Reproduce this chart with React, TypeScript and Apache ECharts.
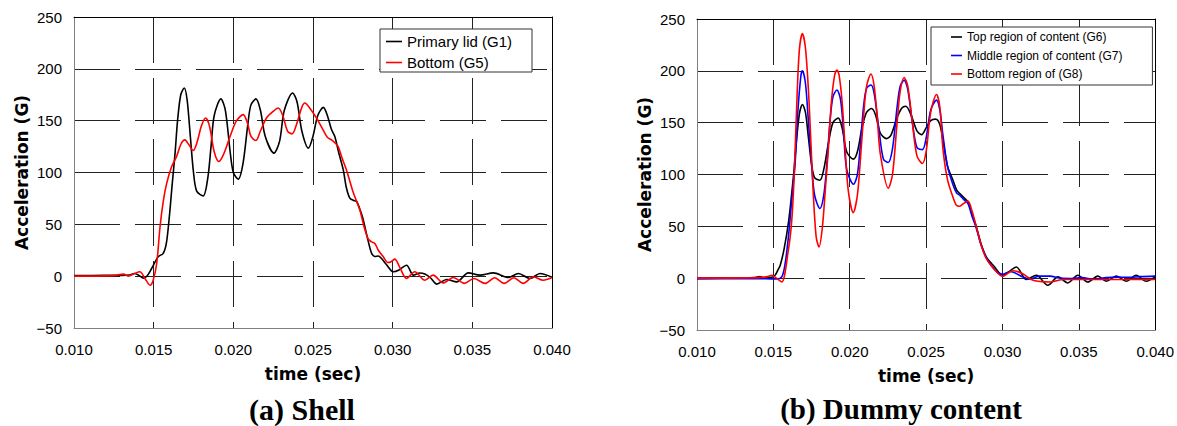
import { useEffect, useRef } from "react";
import * as echarts from "echarts";

// Axis ranges shared by both panels
const timeMin = 0.01;
const timeMax = 0.04;
const timeStep = 0.005;
const accMin = -50;
const accMax = 250;
const accStep = 50;

const timeAxisName = "time (sec)";
const accelAxisName = "Acceleration (G)";
const panelTitles = ["(a) Shell", "(b) Dummy content"];

const shellNames = ["Primary lid (G1)", "Bottom (G5)"];
const contentNames = [
  "Top region of content (G6)",
  "Middle region of content (G7)",
  "Bottom region of (G8)",
];

// (a) Shell — [time (s), acceleration (G)]
const primaryLidG1: [number, number][] = [
  [0.01, 0.5], [0.012, 0.8], [0.013, 0.8], [0.0135, 1.2], [0.0138, 2.6], [0.0141, 0.5],
  [0.01435, -1.9], [0.0146, 0.5], [0.01487, 7.4], [0.0151, 14], [0.0153, 19], [0.0156, 22],
  [0.0158, 32], [0.016, 60], [0.01617, 90], [0.01634, 118], [0.0165, 150], [0.0167, 175],
  [0.01692, 181.5], [0.0171, 170], [0.0173, 135], [0.0175, 100], [0.0177, 82], [0.01811, 77.4],
  [0.0184, 95], [0.0186, 125], [0.0188, 155], [0.01922, 171], [0.0195, 160], [0.0198, 120],
  [0.02, 100], [0.02031, 93.5], [0.0206, 108], [0.0209, 145], [0.0211, 165], [0.02142, 171],
  [0.0217, 160], [0.022, 135], [0.02255, 118.7], [0.0229, 130], [0.0232, 160], [0.02372, 176.7],
  [0.024, 168], [0.0243, 140], [0.02471, 123.5], [0.025, 135], [0.0253, 155], [0.02565, 162.8],
  [0.0259, 155], [0.02615, 142], [0.02637, 134.7], [0.0266, 120], [0.0269, 102.5], [0.0271, 85],
  [0.02732, 75], [0.02755, 73], [0.02774, 72], [0.028, 62], [0.02816, 54], [0.0284, 38],
  [0.02868, 22], [0.0289, 19], [0.0291, 19.5], [0.0293, 17], [0.02962, 11], [0.03004, 4.2],
  [0.0304, 6], [0.03087, 10.6], [0.0313, 1], [0.0317, 3], [0.03202, 2], [0.0324, -2],
  [0.03276, -7.7], [0.03339, -3.2], [0.03402, -5.5], [0.03475, 3.2], [0.03548, 1], [0.03632, 3.2],
  [0.03726, -1.3], [0.03789, 2.6], [0.03862, -2.2], [0.03925, 2.6], [0.04, -1],
];

const bottomG5: [number, number][] = [
  [0.01, 0], [0.0125, 0.5], [0.0131, 2], [0.0134, 0], [0.0138, 2.6], [0.01414, 4.2],
  [0.01445, -2.2], [0.01477, -8.7], [0.01497, -3.9], [0.01519, 12.2], [0.0154, 47.7], [0.0156, 72],
  [0.01582, 89.7], [0.01613, 105.7], [0.01644, 115.4], [0.0167, 127], [0.01696, 131.5], [0.0172, 127],
  [0.01748, 121.2], [0.0177, 128], [0.018, 145], [0.01826, 152.6], [0.0185, 145], [0.0188, 120],
  [0.01909, 110.6], [0.0194, 118], [0.0198, 135], [0.0202, 150], [0.02062, 155.8], [0.0209, 147],
  [0.0211, 135], [0.02142, 130.8], [0.0217, 140], [0.02208, 152.6], [0.0225, 159], [0.02282, 162.2],
  [0.0231, 155], [0.0234, 140], [0.02369, 137.3], [0.024, 148], [0.0243, 163], [0.02449, 167],
  [0.0248, 162], [0.02522, 152.6], [0.0256, 142], [0.0259, 134], [0.02616, 131.5], [0.02635, 129],
  [0.02658, 125], [0.0268, 115], [0.0271, 102.5], [0.0275, 82], [0.02794, 63.8], [0.0282, 48],
  [0.02846, 36], [0.02868, 33], [0.02888, 31.6], [0.0291, 25], [0.02941, 18.7], [0.0297, 13.2],
  [0.0299, 14], [0.03014, 16.4], [0.0304, 10], [0.03087, -2.2], [0.03139, 4.2], [0.03202, -3.9],
  [0.03254, 1], [0.03317, -6.5], [0.0338, -1.3], [0.0345, -7], [0.0351, -2.2], [0.0358, -7],
  [0.0364, -1.5], [0.037, -7], [0.0376, -1.5], [0.0382, -7], [0.03883, -0.6], [0.03945, -3.9],
  [0.04, -1.3],
];

// (b) Dummy content — [time (s), acceleration (G)]
const topRegionG6: [number, number][] = [
  [0.01, 0], [0.013, 0.3], [0.0138, 0.5], [0.01412, 1.5], [0.0144, 0.2], [0.0148, 0.5],
  [0.01511, 2.8], [0.0153, 8], [0.01544, 12], [0.0157, 28], [0.016, 55], [0.01631, 97.7],
  [0.0165, 130], [0.0167, 158], [0.0169, 167.5], [0.0171, 160], [0.0173, 135], [0.0175, 110],
  [0.0177, 97], [0.01805, 94.5], [0.0183, 105], [0.0186, 130], [0.0189, 150], [0.01925, 154.4],
  [0.0195, 145], [0.0198, 122], [0.02023, 114.8], [0.0205, 122], [0.0208, 145], [0.0211, 160],
  [0.02143, 163.6], [0.0217, 157], [0.022, 140], [0.02241, 134.6], [0.0227, 138], [0.0231, 155],
  [0.0234, 164], [0.02367, 165.9], [0.024, 158], [0.0244, 142], [0.0247, 138.5], [0.025, 145],
  [0.0253, 152], [0.02563, 153.4], [0.0259, 148], [0.0261, 133], [0.0264, 108], [0.02676, 94.5],
  [0.027, 85], [0.0272, 81.6], [0.02745, 78], [0.02774, 73.5], [0.028, 62], [0.02829, 49.4],
  [0.0286, 33], [0.02894, 20.5], [0.02949, 10.8], [0.03, 2.8], [0.0304, 6], [0.03091, 10.8],
  [0.03156, -1.3], [0.03222, 2.8], [0.03297, -6.8], [0.03363, 1.2], [0.03428, -4.6], [0.03493, 2.8],
  [0.03559, -3.7], [0.03624, 2], [0.0368, -3], [0.03745, 2], [0.0381, -3], [0.03875, 2.8],
  [0.03941, -3], [0.04, 1.2],
];

const middleRegionG7: [number, number][] = [
  [0.01, -0.8], [0.013, -0.5], [0.0145, -0.5], [0.0152, -0.8], [0.01555, 1.2], [0.01577, 14],
  [0.016, 42], [0.0162, 75], [0.01642, 110], [0.0166, 160], [0.0168, 195], [0.0169, 200],
  [0.0171, 188], [0.0173, 150], [0.0175, 110], [0.0177, 80], [0.01805, 67.2], [0.0183, 80],
  [0.0185, 110], [0.0187, 150], [0.0189, 175], [0.01916, 181.5], [0.0194, 172], [0.0196, 140],
  [0.0198, 105], [0.02025, 90.6], [0.0205, 100], [0.0207, 130], [0.0209, 165], [0.0211, 183],
  [0.02139, 186.3], [0.0216, 178], [0.0219, 145], [0.0222, 115], [0.02252, 111.6], [0.0228, 125],
  [0.0231, 165], [0.0233, 185], [0.02356, 191], [0.0238, 182], [0.0241, 150], [0.0244, 126],
  [0.02476, 124], [0.025, 135], [0.0253, 162], [0.02568, 171.7], [0.0259, 162], [0.0261, 138],
  [0.0264, 108], [0.02676, 90], [0.027, 82], [0.0272, 80], [0.02745, 76], [0.02774, 72],
  [0.028, 60], [0.02829, 48], [0.0286, 32], [0.02894, 20], [0.0295, 8], [0.03, 3.8],
  [0.0305, 6.5], [0.03134, 1.2], [0.0318, -1], [0.0324, 2], [0.0331, 2], [0.0338, 0],
  [0.0345, -0.3], [0.0352, 0.5], [0.036, -1], [0.0368, 0.5], [0.0375, 1], [0.0383, 0.8],
  [0.039, 1.5], [0.04, 2],
];

const bottomRegionG8: [number, number][] = [
  [0.01, 0], [0.014, 0.5], [0.0146, 1.5], [0.0149, 2.8], [0.0152, 0], [0.01555, -3.7],
  [0.01598, 27], [0.0162, 55], [0.01635, 95], [0.01655, 175], [0.0167, 220], [0.0169, 236],
  [0.0171, 222], [0.0173, 180], [0.01745, 133], [0.0176, 85], [0.0178, 40], [0.01799, 30.1],
  [0.0182, 48], [0.0184, 85], [0.0186, 125], [0.0188, 170], [0.019, 195], [0.01916, 200.8],
  [0.0193, 196], [0.0195, 170], [0.0197, 125], [0.0199, 85], [0.02023, 63.2], [0.0205, 80],
  [0.0207, 115], [0.0209, 155], [0.0211, 185], [0.02139, 196.9], [0.0216, 185], [0.0218, 155],
  [0.022, 120], [0.02252, 86.8], [0.0228, 100], [0.0231, 150], [0.0233, 180], [0.02356, 193.6],
  [0.0238, 185], [0.0241, 150], [0.0244, 118], [0.02476, 110.6], [0.025, 122], [0.0253, 160],
  [0.02568, 177.2], [0.0259, 165], [0.0261, 125], [0.0264, 95], [0.02676, 78], [0.027, 70],
  [0.0272, 69.4], [0.02745, 72], [0.02774, 74.5], [0.028, 65], [0.02829, 49.4], [0.0286, 32],
  [0.02894, 18.9], [0.0295, 8], [0.03, 1.8], [0.03069, 7.2], [0.0313, 4.5], [0.032, -2],
  [0.0331, -3.7], [0.034, -1.3], [0.036, -1.3], [0.038, -1.3], [0.04, -1.3],
];

const sansFont = "'Liberation Sans', Arial, sans-serif";
const boldFont = "'DejaVu Sans', sans-serif";
const serifFont = "'Liberation Serif', 'Times New Roman', serif";

const gridDash = [46, 15];

function bottomTimeAxis(gridIndex: number) {
  return {
    type: "value",
    gridIndex,
    min: timeMin,
    max: timeMax,
    interval: timeStep,
    position: "bottom",
    name: timeAxisName,
    nameLocation: "middle",
    nameGap: 37,
    nameTextStyle: { fontFamily: boldFont, fontWeight: "bold", fontSize: 17, color: "#000" },
    axisLine: { show: true, onZero: false, lineStyle: { color: "#808080", width: 1 } },
    axisTick: { show: false },
    axisLabel: {
      margin: 14,
      fontFamily: sansFont,
      fontSize: 15,
      color: "#000",
      formatter: (v: number) => v.toFixed(3),
    },
    splitLine: {
      show: true,
      showMinLine: false,
      showMaxLine: false,
      lineStyle: { color: "#222", width: 1, type: gridDash },
    },
  };
}

function topFrameAxis(gridIndex: number) {
  return {
    type: "value",
    gridIndex,
    min: timeMin,
    max: timeMax,
    position: "top",
    axisLine: { show: true, onZero: false, lineStyle: { color: "#000", width: 1 } },
    axisTick: { show: false },
    axisLabel: { show: false },
    splitLine: { show: false },
  };
}

function leftAccelAxis(gridIndex: number, nameGap: number) {
  return {
    type: "value",
    gridIndex,
    min: accMin,
    max: accMax,
    interval: accStep,
    position: "left",
    name: accelAxisName,
    nameLocation: "middle",
    nameGap,
    nameTextStyle: { fontFamily: boldFont, fontWeight: "bold", fontSize: 17, color: "#000" },
    axisLine: { show: true, onZero: false, lineStyle: { color: "#808080", width: 1 } },
    axisTick: { show: false },
    axisLabel: {
      margin: 12,
      fontFamily: sansFont,
      fontSize: 15,
      color: "#000",
      formatter: (v: number) => (v < 0 ? "\u2212" + Math.abs(v) : String(v)),
    },
    splitLine: {
      show: true,
      showMinLine: false,
      showMaxLine: false,
      lineStyle: { color: "#222", width: 1, type: gridDash },
    },
  };
}

function rightFrameAxis(gridIndex: number) {
  return {
    type: "value",
    gridIndex,
    min: accMin,
    max: accMax,
    position: "right",
    axisLine: { show: true, onZero: false, lineStyle: { color: "#000", width: 1 } },
    axisTick: { show: false },
    axisLabel: { show: false },
    splitLine: { show: false },
  };
}

function lineSeries(name: string, data: [number, number][], color: string, axisIndex: number) {
  return {
    type: "line",
    name,
    data,
    xAxisIndex: axisIndex,
    yAxisIndex: axisIndex,
    symbol: "none",
    smooth: 0.3,
    lineStyle: { color, width: 1.6 },
    itemStyle: { color },
    z: 3,
  };
}

const option = {
  animation: false,
  backgroundColor: "#fff",
  grid: [
    { left: 74, top: 17, width: 478, height: 311 },
    { left: 697, top: 19, width: 459, height: 311 },
  ],
  xAxis: [bottomTimeAxis(0), topFrameAxis(0), bottomTimeAxis(1), topFrameAxis(1)],
  yAxis: [leftAccelAxis(0, 44), rightFrameAxis(0), leftAccelAxis(1, 44), rightFrameAxis(1)],
  legend: [
    {
      data: shellNames,
      orient: "vertical",
      left: 380,
      top: 29,
      padding: [5, 20, 2, 6],
      itemGap: 6,
      icon: "rect",
      itemWidth: 16,
      itemHeight: 1.6,
      backgroundColor: "#fff",
      borderColor: "#333",
      borderWidth: 1,
      selectedMode: false,
      textStyle: { fontFamily: sansFont, fontSize: 15, lineHeight: 15, color: "#000" },
      z: 10,
    },
    {
      data: contentNames,
      orient: "vertical",
      left: 931,
      top: 27,
      padding: [4, 30, 5, 20],
      itemGap: 6.5,
      icon: "rect",
      itemWidth: 11,
      itemHeight: 1.6,
      backgroundColor: "#fff",
      borderColor: "#333",
      borderWidth: 1,
      selectedMode: false,
      textStyle: { fontFamily: sansFont, fontSize: 12, lineHeight: 12, color: "#000" },
      z: 10,
    },
  ],
  series: [
    lineSeries(shellNames[0], primaryLidG1, "#000000", 0),
    lineSeries(shellNames[1], bottomG5, "#ff0000", 0),
    lineSeries(contentNames[0], topRegionG6, "#000000", 2),
    lineSeries(contentNames[1], middleRegionG7, "#0000ff", 2),
    lineSeries(contentNames[2], bottomRegionG8, "#ff0000", 2),
  ],
  graphic: [
    {
      type: "text",
      x: 302,
      y: 409,
      style: {
        text: panelTitles[0],
        fontFamily: serifFont,
        fontWeight: "bold",
        fontSize: 30,
        fill: "#000",
        align: "center",
        verticalAlign: "middle",
      },
    },
    {
      type: "text",
      x: 901,
      y: 409,
      style: {
        text: panelTitles[1],
        fontFamily: serifFont,
        fontWeight: "bold",
        fontSize: 29,
        fill: "#000",
        align: "center",
        verticalAlign: "middle",
      },
    },
  ],
};

export default function App() {
  const ref = useRef<HTMLDivElement>(null);
  useEffect(() => {
    if (!ref.current) return;
    const chart = echarts.init(ref.current, null, { renderer: "svg" });
    chart.setOption(option as any);
    return () => chart.dispose();
  }, []);
  return (
    <div
      ref={ref}
      style={{ position: "fixed", left: 0, top: 0, width: 1177, height: 426, background: "#fff" }}
    />
  );
}
